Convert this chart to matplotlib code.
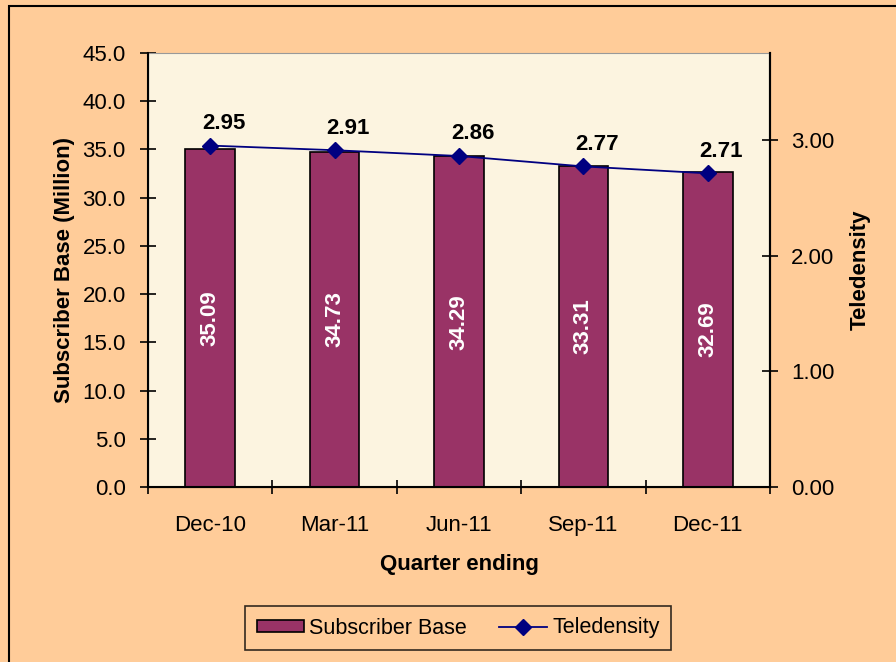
import numpy as np
import matplotlib.pyplot as plt
from matplotlib.patches import Rectangle

quarters = ['Dec-10', 'Mar-11', 'Jun-11', 'Sep-11', 'Dec-11']
subscribers = [35.09, 34.73, 34.29, 33.31, 32.69]
teledensity = [2.95, 2.91, 2.86, 2.77, 2.71]

plt.rcParams['font.family'] = ['Liberation Sans', 'DejaVu Sans']

fig = plt.figure(figsize=(8.96, 6.62), dpi=100, facecolor='#FFCC99')
fig.patches.append(Rectangle((9 / 896, -0.1), 1.1, 1 - 6 / 662 + 0.1, transform=fig.transFigure,
                             fill=False, edgecolor='black', linewidth=1.5))

ax = fig.add_axes([148 / 896, 1 - 487 / 662, 622 / 896, 434 / 662])
ax.set_facecolor('#FCF4E0')
x = np.arange(len(quarters))
bars = ax.bar(x, subscribers, width=0.4, color='#993366', edgecolor='black', linewidth=1.2,
              label='Subscriber Base', zorder=2)
for xi, v in zip(x, subscribers):
    ax.text(xi, v / 2, f'{v:.2f}', rotation=90, ha='center', va='center', color='white',
            fontsize=16, fontweight='bold', zorder=3)

ax.set_xlim(-0.5, len(quarters) - 0.5)
ax.set_ylim(0, 45)
ax.set_yticks(np.arange(0, 46, 5))
ax.set_yticklabels([f'{t:.1f}' for t in np.arange(0, 46, 5)])
ax.set_xticks(x)
ax.set_xticklabels(quarters)
ax.set_xticks(np.arange(-0.5, len(quarters), 1), minor=True)
ax.tick_params(axis='x', which='major', length=0, labelsize=16, pad=20)
ax.tick_params(axis='x', which='minor', direction='inout', length=10, width=1.2)
ax.tick_params(axis='y', direction='inout', length=12, width=1.2, labelsize=16, pad=10)
ax.set_ylabel('Subscriber Base (Million)', fontsize=16, fontweight='bold', labelpad=5)
ax.set_xlabel('Quarter ending', fontsize=16, fontweight='bold', labelpad=13)
for s in ['left', 'bottom', 'right']:
    ax.spines[s].set_linewidth(1.5)
ax.spines['top'].set_color('#999999')
ax.spines['top'].set_linewidth(0.8)

ax2 = ax.twinx()
line, = ax2.plot(x, teledensity, color='#000080', marker='D', markersize=8, linewidth=1.3,
                 label='Teledensity', zorder=4)
for xi, v in zip(x, teledensity):
    ax2.text(xi + 0.11, v + 0.1, f'{v:.2f}', ha='center', va='bottom', fontsize=16,
             fontweight='bold')
ax2.set_ylim(0, 3.75)
ax2.set_yticks([0, 1, 2, 3])
ax2.set_yticklabels(['0.00', '1.00', '2.00', '3.00'])
ax2.tick_params(axis='y', direction='inout', length=12, width=1.2, labelsize=16, pad=9)
ax2.set_ylabel('Teledensity', fontsize=16, fontweight='bold', labelpad=11)
ax2.spines['right'].set_linewidth(1.5)
ax2.spines['top'].set_visible(False)

leg = fig.legend(handles=[bars, line], loc='center', bbox_to_anchor=(458 / 896, 1 - 628 / 662),
                 ncol=2, fontsize=15.5, frameon=True, fancybox=False, edgecolor='black',
                 facecolor='#FFCC99', handlelength=2.2, handleheight=0.5, handletextpad=0.25,
                 columnspacing=1.5, borderpad=0.55)
leg.get_frame().set_linewidth(1.2)

fig.savefig('out.png', dpi=100, facecolor=fig.get_facecolor())
